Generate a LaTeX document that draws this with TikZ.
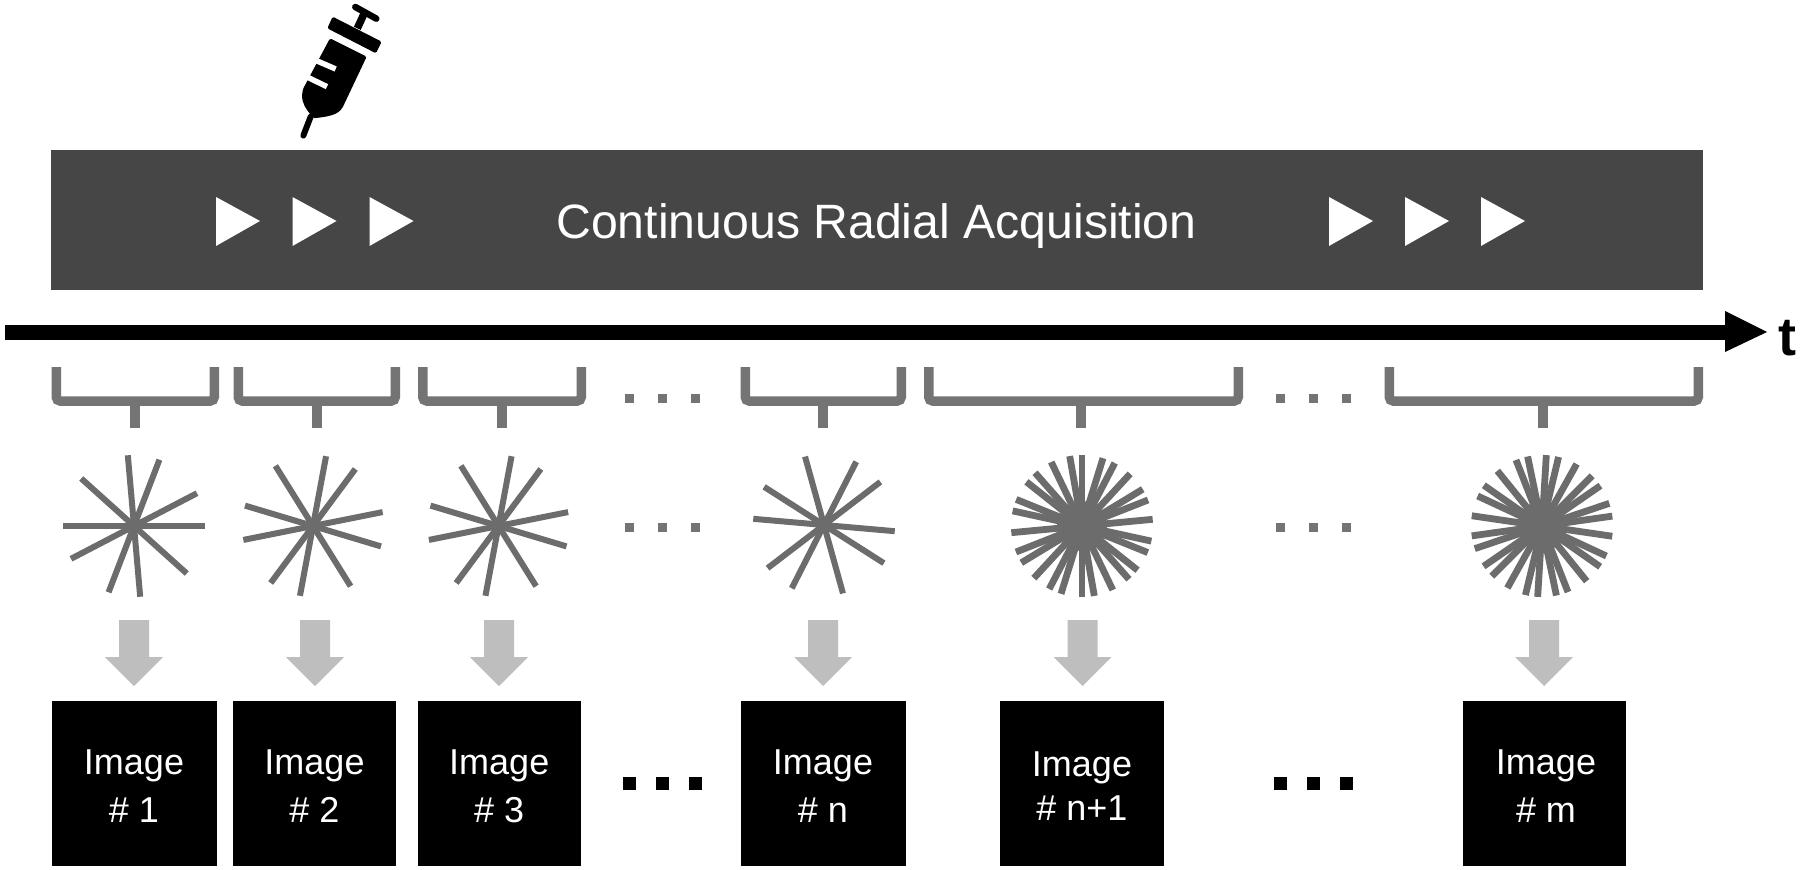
\documentclass[tikz,border=0pt]{standalone}
\usepackage{fontspec}
\setmainfont{Liberation Sans}
\definecolor{barc}{HTML}{464646}
\definecolor{spoke}{HTML}{6C6C6C}
\definecolor{brk}{HTML}{747474}
\definecolor{arr}{HTML}{BEBEBE}
\tikzset{
  bracketline/.style={draw=brk,line width=9.5pt,rounded corners=4pt},
  stemline/.style={draw=brk,line width=10pt},
  spokeline/.style={draw=spoke,line width=#1},
  spokeline/.default=6pt,
  playmark/.style={fill=white},
  blockarrow/.style={fill=arr},
  imagebox/.style={fill=black,minimum width=#1,minimum height=165pt,inner sep=0pt},
  imagetext/.style={text=white,inner sep=0pt,align=center,font=\fontsize{36}{#1}\selectfont},
  imagetext/.default=48,
  greydot/.style={fill=brk},
  blackdot/.style={fill=black},
}
\newcommand{\mybracket}[3]{% left right stem
  \draw[bracketline] (#1+4.75,367) -- (#1+4.75,401) -- (#2-4.75,401) -- (#2-4.75,367);
  \draw[stemline] (#3,401) -- (#3,428);}
\newcommand{\starburst}[5]{% x y radius width angles
  \foreach \a in {#5} {\draw[spokeline=#4] (#1,#2) ++(\a:#3 and -#3) -- ++(\a+180:2*#3 and -2*#3);}}
\newcommand{\grayarrow}[1]{%
  \fill[blockarrow] (#1-15,620) -- (#1+15,620) -- (#1+15,657) -- (#1+29,657) -- (#1,686) -- (#1-29,657) -- (#1-15,657) -- cycle;}
\newcommand{\playmk}[1]{%
  \fill[playmark] (#1,197) -- (#1+44,221) -- (#1,246) -- cycle;}
\newcommand{\threedots}[4]{% x y size style
  \foreach \d in {0,1,2} {\fill[#4] (#1+\d*33-#3/2,#2-#3/2) rectangle ++(#3,#3);}}
\begin{document}
\begin{tikzpicture}[x=1pt,y=-1pt]
\useasboundingbox (0,0) rectangle (1800,870);
\fill[white] (0,0) rectangle (1800,870);
% syringe
\begin{scope}[shift={(250,0)},x=0.3333pt,y=-0.3333pt]
  \fill[black,rounded corners=1.5pt] (240,115) -- (350,170) -- (280,318) .. controls (265,345) and (235,350) .. (190,355) -- (175,335) .. controls (160,315) and (152,295) .. (160,265) -- cycle;
  \draw[white,line width=5.5pt] (190,178) -- (257,207);
  \draw[white,line width=5.5pt] (165,228) -- (231,260);
  \draw[black,line width=6pt,line cap=round] (182,350) -- (160,407);
  \fill[black,rounded corners=1.5pt] (248,50) -- (395,125) -- (378,160) -- (232,85) -- cycle;
  \draw[black,line width=7.5pt] (322,85) -- (345,35);
  \draw[black,line width=6.5pt,line cap=round] (316,21) -- (379,56);
\end{scope}
% bar
\node[fill=barc,minimum width=1652pt,minimum height=140pt,inner sep=0pt,anchor=north west] (bar) at (51,150) {};
\node[text=white,font=\fontsize{48.2}{48}\selectfont,inner sep=0pt] (title) at (876.5,226.5) {Continuous Radial Acquisition};
\playmk{216}\playmk{292.5}\playmk{369.5}
\playmk{1329}\playmk{1405}\playmk{1481}
% time axis
\coordinate (tstart) at (5,332);
\coordinate (tend) at (1730,332);
\draw[black,line width=15pt] (tstart) -- (tend);
\fill[black] (1725,311) -- (1767,332) -- (1725,352) -- cycle;
\node[font=\fontsize{54}{54}\bfseries\selectfont,inner sep=0pt,anchor=base] (t) at (1787,355) {t};
% brackets
\mybracket{51.5}{219}{135}
\mybracket{233.5}{400}{317}
\mybracket{418}{586}{502}
\mybracket{740.5}{906}{823}
\mybracket{924}{1243}{1081}
\mybracket{1384.5}{1703}{1543}
\threedots{629}{398}{9}{greydot}
\threedots{1280}{398}{9}{greydot}
\threedots{629}{527}{9}{greydot}
\threedots{1280}{527}{9}{greydot}
% stars
\starburst{134}{526}{71}{6pt}{0,27.5,69,95,138}
\starburst{313}{526}{71}{6pt}{11.3,53.4,79.4,122,163.3}
\starburst{498.5}{526}{71}{6pt}{11.3,53.4,79.4,122,163.3}
\starburst{824}{525}{71}{6pt}{37.4,63,105.5,147.5,175}
\starburst{1082}{526}{71}{6.8pt}{5.4,21.5,31.2,47.3,62.5,72.8,90,100,115.7,131.4,141.5,158,167.7}
\fill[spoke] (1082,526) circle (25);
\starburst{1542}{526}{71}{6.8pt}{8,18.6,34.6,45,60.8,76.5,86.5,101.7,111.5,129,145,155,171.7}
\fill[spoke] (1542,526) circle (25);
% arrows
\grayarrow{134}\grayarrow{315}\grayarrow{499}\grayarrow{823}\grayarrow{1082.5}\grayarrow{1544}
% images
\node[imagebox=165pt] (im1) at (134,783.5) {};
\node[imagetext] (t1) at (134,786) {Image\\\# 1};
\node[imagebox=163pt] (im2) at (314.5,783.5) {};
\node[imagetext] (t2) at (314.5,786) {Image\\\# 2};
\node[imagebox=163.5pt] (im3) at (499.25,783.5) {};
\node[imagetext] (t3) at (499.25,786) {Image\\\# 3};
\node[imagebox=165pt] (im4) at (823,783.5) {};
\node[imagetext] (t4) at (823,786) {Image\\\# n};
\node[imagebox=164pt] (im5) at (1082,783.5) {};
\node[imagetext=43.5] (t5) at (1082,786) {Image\\\# n+1};
\node[imagebox=163pt] (im6) at (1544,783.5) {};
\node[imagetext] (t6) at (1546,786) {Image\\\# m};
\threedots{629.5}{783}{13}{blackdot}
\threedots{1280.5}{783}{13}{blackdot}
\end{tikzpicture}
\end{document}
